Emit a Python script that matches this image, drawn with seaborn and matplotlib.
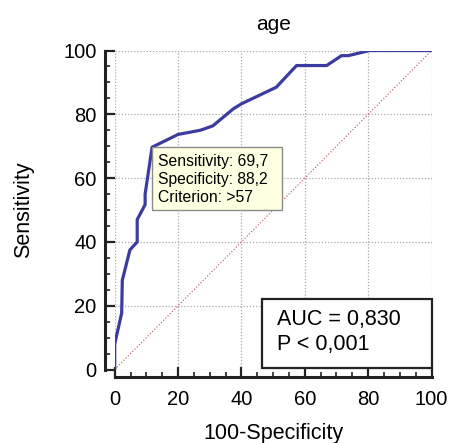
import matplotlib
matplotlib.use("Agg")
import matplotlib.pyplot as plt
import seaborn as sns
import pandas as pd
from matplotlib.ticker import MultipleLocator
from matplotlib.patches import Rectangle

# ROC curve (100-Specificity, Sensitivity)
fpr = [0, 0, 2.2, 2.4, 4.8, 7.1, 7.1, 9.6, 9.6, 11.8, 20, 27, 31, 37.4, 40, 51, 57.4, 66.9, 71.6, 73.7, 80.5, 100]
tpr = [0, 8, 17.7, 28, 37.5, 40, 47, 51.7, 55, 69.7, 73.7, 75, 76.4, 81.7, 83.3, 88.5, 95.3, 95.3, 98.4, 98.4, 100, 100]
diag = [0, 100]
ticks = [0, 20, 40, 60, 80, 100]
crit_x = 11.8
crit_y = 69.7
crit_text = ["Sensitivity: 69,7", "Specificity: 88,2", "Criterion: >57"]
auc_text = ["AUC = 0,830", "P < 0,001"]

sns.set_theme(style="white")
plt.rcParams['font.family'] = ['Liberation Sans', 'DejaVu Sans']
plt.rcParams['text.color'] = 'black'
plt.rcParams['axes.labelcolor'] = 'black'

fig = plt.figure(figsize=(4.5, 4.43), dpi=100)
ax = fig.add_axes([0.2549, 0.1659, 0.704, 0.720])

df = pd.DataFrame({"fpr": fpr, "tpr": tpr})
sns.lineplot(data=df, x="fpr", y="tpr", sort=False, estimator=None,
             color="#3c3ca0", lw=2.3, ax=ax, zorder=4)
sns.lineplot(x=diag, y=diag, color="#c07070", lw=0.9, linestyle=(0, (1, 1.5)),
             ax=ax, zorder=3)

ax.set_xlim(0, 100)
ax.set_ylim(0, 100)
ax.set_xticks(ticks)
ax.set_yticks(ticks)
ax.xaxis.set_minor_locator(MultipleLocator(5))
ax.yaxis.set_minor_locator(MultipleLocator(5))
ax.grid(True, which="major", color="#a8a8a8", lw=0.9, linestyle=(0, (1, 1.5)))
for s in ["top", "right"]:
    ax.spines[s].set_visible(False)
ax.spines["left"].set_position(("outward", 7))
ax.spines["bottom"].set_position(("outward", 5.5))
for s in ["left", "bottom"]:
    ax.spines[s].set_color("#222222")
    ax.spines[s].set_linewidth(2.2)
ax.tick_params(which="major", direction="in", length=7, width=1.6, color="#222222",
               labelsize=14.5, labelcolor="black")
ax.tick_params(which="minor", direction="in", length=3.5, width=1.2, color="#222222")
ax.tick_params(axis="x", which="major", pad=9)
ax.tick_params(axis="y", which="major", pad=6)
ax.tick_params(which="both", bottom=True, left=True)

ax.set_xlabel("100-Specificity", fontsize=15.5, labelpad=10, color="black")
ax.set_ylabel("Sensitivity", fontsize=15.5, labelpad=21, color="black")
ax.set_title("age", fontsize=15, pad=15, color="black")

# criterion tooltip box
ax.add_patch(Rectangle((crit_x, crit_y - 19.8), 41, 19.8, fc="#ffffe1", ec="#8a8a8a",
                       lw=1, zorder=6, clip_on=False))
ax.text(crit_x + 1.9, crit_y - 2.0, "\n".join(crit_text), fontsize=11.3,
        va="top", ha="left", linespacing=1.28, zorder=7, color="black")

# AUC box
ax.add_patch(Rectangle((46.4, 0.5), 53.6, 21.5, fc="white", ec="#222222",
                       lw=1.6, zorder=6, clip_on=False))
ax.text(51.1, 19.1, "\n".join(auc_text), fontsize=15.5, va="top", ha="left",
        linespacing=1.3, zorder=7, color="black")

fig.savefig("out.png", dpi=100)
